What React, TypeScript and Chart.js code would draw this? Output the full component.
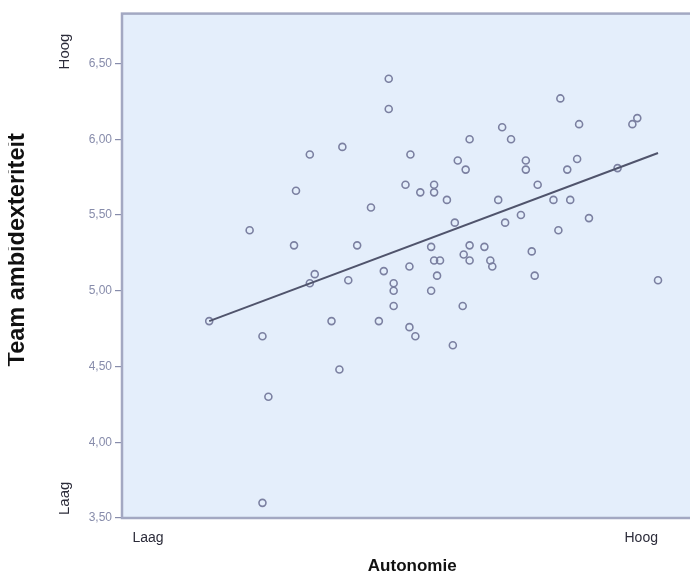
import React, { useEffect, useRef } from 'react';
import { Chart, registerables } from 'chart.js';

Chart.register(...registerables);

// Autonomie (x) and Team ambidexteriteit (y) per team
const autonomie = [
  2.12, 2.53, 2.66, 2.72, 2.66, 2.98, 3.0, 3.14, 3.14, 3.19,
  3.36, 3.44, 3.47, 3.53, 3.62, 3.76, 3.84, 3.89, 3.94, 3.94,
  3.99, 3.99, 3.99, 4.11, 4.16, 4.15, 4.15, 4.21, 4.26, 4.4,
  4.4, 4.53, 4.37, 4.37, 4.43, 4.4, 4.46, 4.59, 4.61, 4.64,
  4.72, 4.76, 4.69, 4.7, 4.76, 4.76, 4.91, 4.97, 4.99, 5.05,
  5.09, 5.18, 5.12, 5.28, 5.33, 5.33, 5.39, 5.42, 5.45, 5.61,
  5.66, 5.68, 5.75, 5.78, 5.85, 5.87, 5.97, 6.26, 6.41, 6.46,
  6.67,
];
const ambidexteriteit = [
  4.8, 5.4, 4.7, 4.3, 3.6, 5.3, 5.66, 5.9, 5.05, 5.11,
  4.8, 4.48, 5.95, 5.07, 5.3, 5.55, 4.8, 5.13, 6.4, 6.2,
  5.05, 5.0, 4.9, 5.7, 5.9, 5.16, 4.76, 4.7, 5.65, 5.7,
  5.65, 5.6, 5.29, 5.0, 5.1, 5.2, 5.2, 4.64, 5.45, 5.86,
  5.8, 6.0, 4.9, 5.24, 5.3, 5.2, 5.29, 5.2, 5.16, 5.6,
  6.08, 6.0, 5.45, 5.5, 5.86, 5.8, 5.26, 5.1, 5.7, 5.6,
  5.4, 6.27, 5.8, 5.6, 5.87, 6.1, 5.48, 5.81, 6.1, 6.14,
  5.07,
];

// Fit line end points
const fitX = [2.12, 6.67];
const fitY = [4.8, 5.91];

// Axes
const yTickValues = [3.5, 4.0, 4.5, 5.0, 5.5, 6.0, 6.5];
const xTickValues = [1.5, 6.5];
const xTickLabels = ['Laag', 'Hoog'];
const ySideLabels = ['Hoog', 'Laag'];
const ySideValues = [6.58, 3.63];
const xTitle = 'Autonomie';
const yTitle = 'Team ambidexteriteit';

const BG = '#e4eefb';
const BORDER = '#a3a8c2';
const TICK_COLOR = '#878cab';
const POINT_COLOR = '#7b80a1';
const LINE_COLOR = '#50546c';
const FONT = "'Liberation Sans', Arial, sans-serif";

const framePlugin = {
  id: 'frame',
  beforeDraw(chart: any) {
    const { ctx, chartArea } = chart;
    const { left, top, right, bottom } = chartArea;
    ctx.save();
    ctx.fillStyle = BG;
    ctx.fillRect(left, top, right - left, bottom - top);
    ctx.restore();
  },
  beforeDatasetsDraw(chart: any) {
    const { ctx, chartArea } = chart;
    const { left, top, right, bottom } = chartArea;
    ctx.save();
    ctx.strokeStyle = BORDER;
    ctx.lineWidth = 2.5;
    ctx.strokeRect(left, top, right - left, bottom - top);
    ctx.restore();
  },
  afterDraw(chart: any) {
    const { ctx, chartArea } = chart;
    const yScale = chart.scales.y;
    ctx.save();
    // side labels on the y axis
    ctx.font = `15px ${FONT}`;
    ctx.fillStyle = '#2c2c3a';
    ctx.textAlign = 'center';
    ctx.textBaseline = 'middle';
    ySideLabels.forEach((t, i) => {
      const py = yScale.getPixelForValue(ySideValues[i]);
      ctx.save();
      ctx.translate(57, py);
      ctx.rotate(-Math.PI / 2);
      ctx.fillText(t, 0, 0);
      ctx.restore();
    });
    // y title
    ctx.font = `bold 23.5px ${FONT}`;
    ctx.fillStyle = '#111';
    const cy = (chartArea.top + chartArea.bottom) / 2 - 16;
    ctx.translate(10, cy);
    ctx.rotate(-Math.PI / 2);
    ctx.fillText(yTitle, 0, 0);
    ctx.restore();
  },
};

export default function App() {
  const ref = useRef<HTMLCanvasElement | null>(null);

  useEffect(() => {
    if (!ref.current) return;
    const points = autonomie.map((x, i) => ({ x, y: ambidexteriteit[i] }));
    const fit = fitX.map((x, i) => ({ x, y: fitY[i] }));
    const chart = new Chart(ref.current, {
      type: 'scatter',
      data: {
        datasets: [
          {
            data: fit,
            showLine: true,
            borderColor: LINE_COLOR,
            borderWidth: 2,
            pointRadius: 0,
            order: 0,
          } as any,
          {
            data: points,
            backgroundColor: 'rgba(0,0,0,0)',
            borderColor: POINT_COLOR,
            borderWidth: 1.6,
            pointRadius: 3.5,
            order: 1,
          },
        ],
      },
      options: {
        responsive: false,
        animation: false,
        layout: { padding: { top: 4, left: 0, right: 0, bottom: 0 } },
        plugins: {
          legend: { display: false },
          tooltip: { enabled: false },
        },
        scales: {
          x: {
            type: 'linear',
            min: 1.236,
            max: 7.12,
            afterFit: (s: any) => {
              s.height = 60;
              s.paddingLeft = 0;
              s.paddingRight = 0;
              s.paddingTop = 0;
              s.paddingBottom = 0;
            },
            afterBuildTicks: (s: any) => {
              s.ticks = xTickValues.map((v) => ({ value: v }));
            },
            grid: { display: false, drawTicks: false },
            border: { display: false },
            ticks: {
              padding: 12,
              color: '#2c2c3a',
              font: { family: FONT, size: 14 },
              maxRotation: 0,
              callback: (v: any) => {
                const idx = xTickValues.indexOf(Number(v));
                return idx >= 0 ? xTickLabels[idx] : '';
              },
            },
            title: {
              display: true,
              text: xTitle,
              color: '#111',
              font: { family: FONT, size: 17, weight: 'bold' },
              padding: { top: 0, bottom: 1 },
            },
          },
          y: {
            type: 'linear',
            min: 3.5,
            max: 6.83,
            afterFit: (s: any) => {
              s.width = 114;
              s.paddingLeft = 0;
              s.paddingRight = 0;
              s.paddingTop = 0;
              s.paddingBottom = 0;
            },
            afterBuildTicks: (s: any) => {
              s.ticks = yTickValues.map((v) => ({ value: v }));
            },
            grid: {
              display: true,
              drawOnChartArea: false,
              drawTicks: true,
              tickLength: 7,
              color: TICK_COLOR,
              lineWidth: 1.2,
            },
            border: { display: false },
            ticks: {
              padding: 3,
              color: TICK_COLOR,
              font: { family: FONT, size: 12 },
              callback: (v: any) => Number(v).toFixed(2).replace('.', ','),
            },
          },
        },
      },
      plugins: [framePlugin],
    });
    return () => chart.destroy();
  }, []);

  return (
    <div style={{ width: 690, height: 570, overflow: 'hidden' }}>
      <canvas ref={ref} width={700} height={570} style={{ display: 'block' }} />
    </div>
  );
}
